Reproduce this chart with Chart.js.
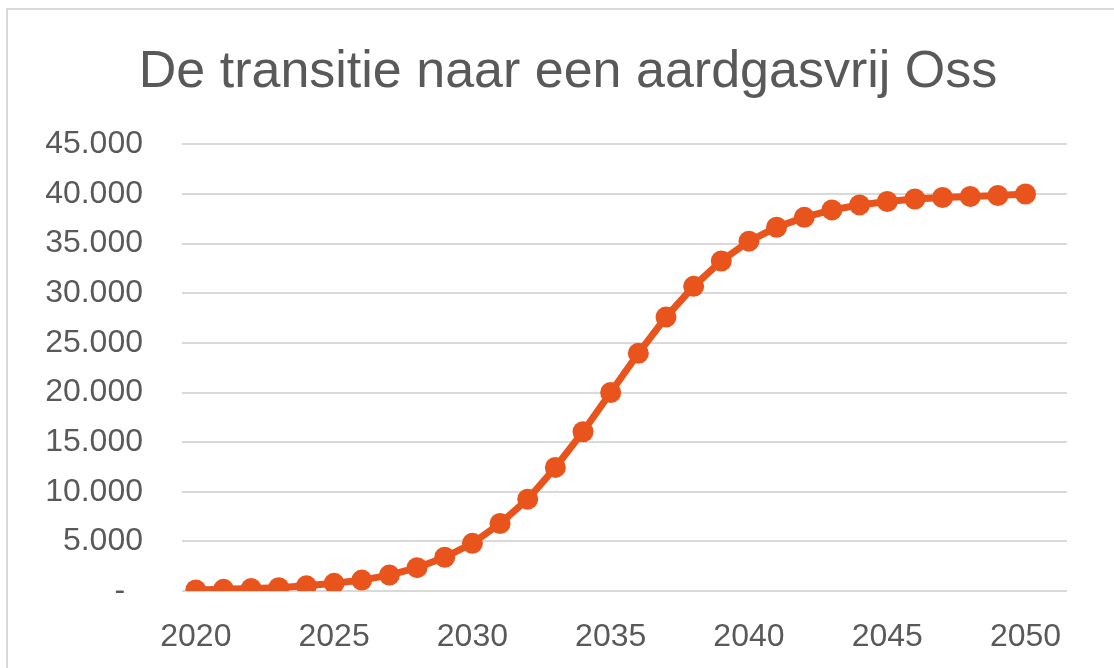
<!DOCTYPE html>
<html>
<head>
<meta charset="utf-8">
<script src="https://cdn.jsdelivr.net/npm/chart.js@4"></script>
<style>
  html, body { margin: 0; padding: 0; background: #fff; }
  #frame {
    position: absolute; left: 6px; top: 8px; width: 1200px; height: 700px;
    border-top: 2px solid #d9d9d9; border-left: 2px solid #d9d9d9;
  }
  #chart { position: absolute; left: 0; top: 0; }
</style>
</head>
<body>
<div id="frame"></div>
<canvas id="chart" width="1114" height="668"></canvas>
<script>
// years on the axis (one empty slot after 2050, like the source sheet)
const years = [2020, 2021, 2022, 2023, 2024, 2025, 2026, 2027, 2028, 2029,
               2030, 2031, 2032, 2033, 2034, 2035, 2036, 2037, 2038, 2039,
               2040, 2041, 2042, 2043, 2044, 2045, 2046, 2047, 2048, 2049,
               2050, 2051];

// number of homes off natural gas
const homes = [100, 170, 240, 340, 520, 770, 1100, 1600, 2350, 3400,
               4800, 6800, 9250, 12450, 16050, 20000, 23950, 27600, 30700, 33250,
               35250, 36650, 37650, 38400, 38900, 39250, 39500, 39650, 39750, 39850,
               40000];

const yTicks = [0, 5000, 10000, 15000, 20000, 25000, 30000, 35000, 40000, 45000];

const titleText = 'De transitie naar een aardgasvrij Oss';
const orange = '#E9541D';
const grey = '#595959';
const font = '"Liberation Sans", Arial, sans-serif';

function fmt(v) {
    if (v === 0) return '-  ';
    return (v / 1000) + '.000';
}

// the title in the sheet is centred on the whole frame, not on the plot
const titleShift = {
    id: 'titleShift',
    afterLayout(chart) {
        if (chart.titleBlock) chart.titleBlock.left = 69;
    }
};

new Chart(document.getElementById('chart').getContext('2d'), {
    type: 'line',
    data: {
        labels: years.map(String),
        datasets: [{
            data: homes,
            borderColor: orange,
            backgroundColor: orange,
            borderWidth: 7,
            pointRadius: 10.5,
            pointBorderWidth: 0,
            pointBackgroundColor: orange,
            tension: 0,
            fill: false,
        }]
    },
    plugins: [titleShift],
    options: {
        responsive: false,
        animation: false,
        layout: { padding: { left: 0, right: 47, top: 0, bottom: 0 } },
        plugins: {
            legend: { display: false },
            tooltip: { enabled: false },
            title: {
                display: true,
                text: titleText,
                color: grey,
                font: { family: font, size: 52, weight: 'normal' },
                padding: { top: 41, bottom: 41 },
            }
        },
        scales: {
            x: {
                offset: true,
                afterFit: (scale) => { scale.height = 77; },
                grid: { display: false, drawTicks: false },
                border: { display: false },
                ticks: {
                    autoSkip: false,
                    maxRotation: 0,
                    padding: 27,
                    color: grey,
                    font: { family: font, size: 32 },
                    callback: (v, i) => (i % 5 === 0 && i < 31) ? years[i] : '',
                }
            },
            y: {
                min: 0,
                max: 45000,
                afterFit: (scale) => { scale.width = 182; },
                afterBuildTicks: (scale) => { scale.ticks = yTicks.map(v => ({ value: v })); },
                grid: { color: '#d9d9d9', lineWidth: 2, drawTicks: false },
                border: { display: false },
                ticks: {
                    padding: 39,
                    color: grey,
                    font: { family: font, size: 32 },
                    callback: (v) => fmt(v),
                }
            }
        }
    }
});
</script>
</body>
</html>
